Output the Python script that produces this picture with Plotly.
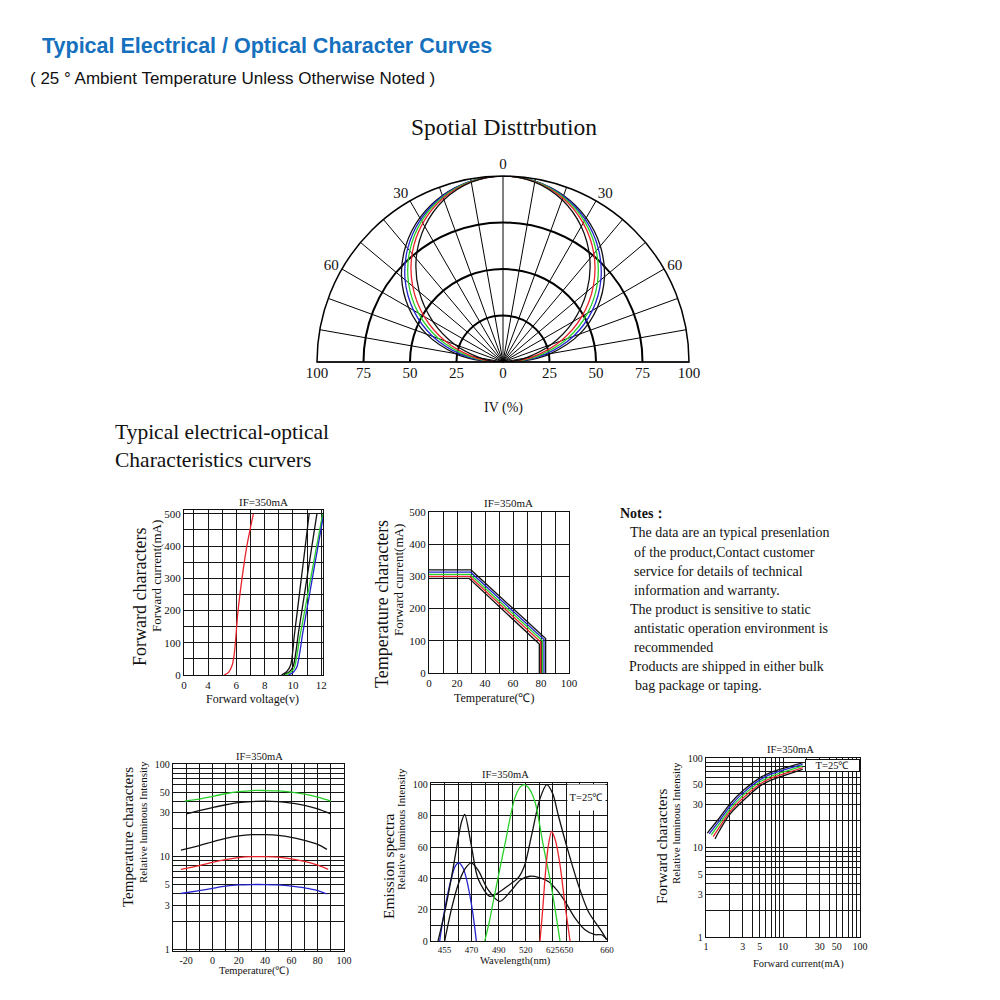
import plotly.graph_objects as go

SERIF = "Liberation Serif, 'Times New Roman', serif"
SANS = "Liberation Sans, Arial, sans-serif"
INK = "#111111"
GRID = "#161616"
RED = "#e8232b"
GREEN = "#28d028"
BLUE = "#2424cc"
TITLE_BLUE = "#1570be"

# ---------------- Spatial distribution (polar) ----------------
spatial_theta = [-90, -85, -80, -70, -60, -50, -40, -30, -20, -10, 0,
                 10, 20, 30, 40, 50, 60, 70, 80, 85, 90]
spatial_black_outer = [0, 15.3, 26.0, 43.8, 58.6, 71.2, 81.4, 89.5, 95.3, 98.8, 100,
                       98.8, 95.3, 89.5, 81.4, 71.2, 58.6, 43.8, 26.0, 15.3, 0]
spatial_blue = [0, 12.6, 22.6, 40.2, 55.5, 68.7, 79.7, 88.5, 94.9, 98.7, 100,
                98.7, 94.9, 88.5, 79.7, 68.7, 55.5, 40.2, 22.6, 12.6, 0]
spatial_green = [0, 10.3, 19.6, 36.9, 52.5, 66.3, 78.0, 87.5, 94.4, 98.6, 100,
                 98.6, 94.4, 87.5, 78.0, 66.3, 52.5, 36.9, 19.6, 10.3, 0]
spatial_red = [0, 8.1, 16.5, 33.1, 49.0, 63.4, 76.0, 86.2, 93.8, 98.4, 100,
               98.4, 93.8, 86.2, 76.0, 63.4, 49.0, 33.1, 16.5, 8.1, 0]
spatial_black_inner = [0, 5.3, 12.2, 27.6, 43.5, 58.8, 72.6, 84.1, 92.8, 98.2, 100,
                       98.2, 92.8, 84.1, 72.6, 58.8, 43.5, 27.6, 12.2, 5.3, 0]
spatial_angle_ticks = [-90, -80, -70, -60, -50, -40, -30, -20, -10, 0,
                       10, 20, 30, 40, 50, 60, 70, 80, 90]
spatial_angle_labels = ["", "", "", "60", "", "", "30", "", "", "0",
                        "", "", "30", "", "", "60", "", "", ""]
spatial_r_ticks = [25, 50, 75, 100]
iv_ticks = [-100, -75, -50, -25, 0, 25, 50, 75, 100]
iv_labels = ["100", "75", "50", "25", "0", "25", "50", "75", "100"]

# ---------------- Forward characters (IF vs VF) ----------------
fv_ticks = [2.301, 3, 4, 5, 6, 7, 8, 9, 10, 11, 12]
fv_labels = ["0", "", "4", "", "6", "", "8", "", "10", "", "12"]
fi_ticks = [0, 50, 100, 150, 200, 250, 300, 350, 400, 450, 500]
fi_labels = ["0", "", "100", "", "200", "", "300", "", "400", "", "500"]
fv_red_v = [5.14, 5.45, 5.7, 5.85, 5.93, 6.12, 6.4, 6.74, 7.2]
fv_red_ma = [0, 8, 30, 65, 100, 200, 300, 400, 500]
fv_black1_v = [9.19, 9.55, 9.83, 10.1, 10.5, 10.85, 11.14]
fv_black1_ma = [0, 10, 30, 125, 268, 393, 500]
fv_black2_v = [9.36, 9.75, 10.02, 10.4, 10.85, 11.3, 11.69]
fv_black2_ma = [0, 10, 28, 135, 262, 390, 500]
fv_green_v = [9.43, 9.8, 10.07, 10.5, 11.0, 11.6, 12.1]
fv_green_ma = [0, 8, 20, 122, 240, 383, 500]
fv_blue_v = [9.67, 10.0, 10.26, 10.7, 11.2, 11.7, 12.15]
fv_blue_ma = [0, 8, 23, 133, 258, 383, 495]

# ---------------- Temperature characters (IF derating) ----------------
td_ticks = [0, 10, 20, 30, 40, 50, 60, 70, 80, 90, 100]
td_labels = ["0", "", "20", "", "40", "", "60", "", "80", "", "100"]
ti_ticks = [0, 100, 200, 300, 400, 500]
ti_labels = ["0", "100", "200", "300", "400", "500"]
td_black_top_t = [0, 30, 83.3, 83.3]
td_black_top_ma = [320, 320, 107, 0]
td_blue_t = [0, 29.7, 82.1, 82.1]
td_blue_ma = [313, 313, 104, 0]
td_green_t = [0, 29.4, 81.0, 81.0]
td_green_ma = [306, 306, 100, 0]
td_red_t = [0, 29.0, 79.8, 79.8]
td_red_ma = [300, 300, 96, 0]
td_black_bot_t = [0, 28.6, 78.8, 78.8]
td_black_bot_ma = [294, 294, 90, 0]

# ---------------- Temperature characters (relative intensity) ----------------
tl_ticks = [-30, -20, -10, 0, 10, 20, 30, 40, 50, 60, 70, 80, 90, 100]
tl_labels = ["", "-20", "", "0", "", "20", "", "40", "", "60", "", "80", "", "100"]
log_ticks = [1, 2, 3, 4, 5, 6, 7, 8, 9, 10, 20, 30, 40, 50, 60, 70, 80, 90, 100]
log_labels = ["1", "", "3", "", "5", "", "", "", "", "10", "", "30", "", "50",
              "", "", "", "", "100"]
tl_green_t = [-21, -10, 0, 10, 20, 30, 40, 50, 60, 70, 80, 90]
tl_green = [40, 42, 45, 48, 50.5, 52, 52, 51.5, 50, 47.5, 44, 40]
tl_black_hi_t = [-20, -10, 0, 10, 20, 30, 40, 50, 60, 70, 80, 90]
tl_black_hi = [29, 31.5, 34, 36.5, 38.5, 39.5, 40, 39.5, 38, 36, 33, 29]
tl_black_mid_t = [-24, -10, 0, 10, 20, 30, 40, 50, 60, 70, 80, 87]
tl_black_mid = [11.8, 13.2, 14.5, 15.8, 16.8, 17.3, 17.3, 17.0, 16.2, 15.0, 13.6, 12.0]
tl_red_t = [-24, -10, 0, 10, 20, 30, 40, 50, 60, 70, 80, 88]
tl_red = [7.3, 8.0, 8.7, 9.3, 9.8, 10.0, 10.0, 9.9, 9.5, 8.9, 8.1, 7.3]
tl_blue_t = [-24, -10, 0, 10, 20, 30, 40, 50, 60, 70, 80, 87]
tl_blue = [4.0, 4.3, 4.55, 4.8, 4.95, 5.0, 5.0, 4.95, 4.8, 4.6, 4.3, 3.95]

# ---------------- Emission spectra ----------------
wl_ticks = [1, 2, 3, 4, 5, 6, 7, 8, 9, 10, 11, 12, 13]
wl_labels = ["455", "", "470", "", "490", "", "520", "", "625", "650", "", "", "660"]
sp_ticks = [0, 10, 20, 30, 40, 50, 60, 70, 80, 90, 100]
sp_labels = ["0", "", "20", "", "40", "", "60", "", "80", "", "100"]
sp_blue_x = [0.64, 1.01, 1.5, 1.8, 2.05, 2.35, 2.61, 3.05, 3.35]
sp_blue_y = [0, 20, 40, 48, 50, 47, 40, 20, 0]
sp_black1_x = [0.52, 1.0, 1.5, 1.94, 2.25, 2.49, 2.98, 3.47, 4.34, 5.0, 5.8, 6.4,
               6.9, 7.44, 8.05, 8.55, 9.0, 9.4, 10.14, 10.88, 11.62, 12.6, 12.98]
sp_black1_y = [0, 18, 40, 62, 76, 81, 61, 40, 28.6, 31, 36, 40,
               48, 68, 91, 100, 94, 80.4, 57.1, 35.9, 18.9, 6.2, 0.9]
sp_black2_x = [1.01, 1.5, 2.0, 2.5, 2.98, 3.5, 4.2, 5.07, 5.9, 6.6, 7.31, 8.0,
               8.67, 9.3, 9.9, 10.64, 11.37, 12.11, 12.6, 12.98]
sp_black2_y = [0, 20, 36, 46, 50, 45, 33, 25.3, 32, 39, 41.4, 40.5,
               38, 32.5, 25.3, 14.6, 7.2, 4.0, 4.0, 0.9]
sp_green_x = [3.97, 4.3, 4.7, 5.44, 6.18, 6.6, 6.89, 7.2, 7.68, 8.29, 8.91, 9.53]
sp_green_y = [0, 12, 29.7, 61, 91, 98.5, 100, 98, 89, 61.3, 33.8, 0]
sp_red_x = [8.05, 8.25, 8.42, 8.65, 8.91, 9.2, 9.53, 9.9, 10.27]
sp_red_y = [0, 20, 40, 60, 70, 64, 48.6, 23, 0]

# ---------------- Forward characters (relative intensity vs IF) ----------------
fc_black_hi_x = [1.04, 1.5, 2, 3, 5, 7, 10, 14, 18]
fc_black_hi = [14.5, 21.5, 30, 43, 60, 69, 76.5, 83, 88.5]
fc_blue_x = [1.1, 1.5, 2, 3, 5, 7, 10, 14, 18]
fc_blue = [14.2, 20, 28, 40.5, 57, 66, 73, 79.5, 85]
fc_green_x = [1.17, 1.5, 2, 3, 5, 7, 10, 14, 18]
fc_green = [13.8, 18.5, 26.2, 38, 54, 62.5, 69.5, 76, 81.5]
fc_red_x = [1.24, 1.5, 2, 3, 5, 7, 10, 14, 18]
fc_red = [13.2, 17, 24.5, 35.5, 51, 59.5, 66, 72.5, 78]
fc_black_lo_x = [1.31, 1.5, 2, 3, 5, 7, 10, 14, 18]
fc_black_lo = [12.5, 15.5, 23, 33, 48.5, 56.5, 63, 69.5, 74.6]

notes_lines = [
    "The data are an typical presenlation",
    "of the product,Contact customer",
    "service for details of technical",
    "information and warranty.",
    "The product is sensitive to static",
    "antistatic operation environment is",
    "recommended",
    "Products are shipped in either bulk",
    "bag package or taping.",
]

# page geometry (the browser body adds an 8 px margin)
OFF = 8
SIZE = 984

fig = go.Figure()

for r, c in [(spatial_black_outer, INK), (spatial_blue, BLUE), (spatial_green, GREEN),
             (spatial_red, RED), (spatial_black_inner, INK)]:
    fig.add_trace(go.Scatterpolar(theta=spatial_theta, r=r, mode="lines",
                                  line=dict(color=c, width=1.3, shape="spline"),
                                  subplot="polar", hoverinfo="skip"))


def line(x, y, c, xa, ya, spline=True, w=1.3):
    fig.add_trace(go.Scatter(x=x, y=y, mode="lines", xaxis=xa, yaxis=ya,
                             line=dict(color=c, width=w,
                                       shape="spline" if spline else "linear",
                                       smoothing=0.8),
                             hoverinfo="skip", cliponaxis=True))


line(fv_red_v, fv_red_ma, RED, "x", "y")
line(fv_black1_v, fv_black1_ma, INK, "x", "y")
line(fv_black2_v, fv_black2_ma, INK, "x", "y")
line(fv_green_v, fv_green_ma, GREEN, "x", "y")
line(fv_blue_v, fv_blue_ma, BLUE, "x", "y")

line(td_black_top_t, td_black_top_ma, INK, "x2", "y2", spline=False)
line(td_blue_t, td_blue_ma, BLUE, "x2", "y2", spline=False)
line(td_green_t, td_green_ma, GREEN, "x2", "y2", spline=False)
line(td_red_t, td_red_ma, RED, "x2", "y2", spline=False)
line(td_black_bot_t, td_black_bot_ma, INK, "x2", "y2", spline=False)

line(tl_green_t, tl_green, GREEN, "x3", "y3")
line(tl_black_hi_t, tl_black_hi, INK, "x3", "y3")
line(tl_black_mid_t, tl_black_mid, INK, "x3", "y3")
line(tl_red_t, tl_red, RED, "x3", "y3")
line(tl_blue_t, tl_blue, BLUE, "x3", "y3")

line(sp_blue_x, sp_blue_y, BLUE, "x4", "y4")
line(sp_black1_x, sp_black1_y, INK, "x4", "y4")
line(sp_black2_x, sp_black2_y, INK, "x4", "y4")
line(sp_green_x, sp_green_y, GREEN, "x4", "y4")
line(sp_red_x, sp_red_y, RED, "x4", "y4")

line(fc_black_hi_x, fc_black_hi, INK, "x5", "y5")
line(fc_blue_x, fc_blue, BLUE, "x5", "y5")
line(fc_green_x, fc_green, GREEN, "x5", "y5")
line(fc_red_x, fc_red, RED, "x5", "y5")
line(fc_black_lo_x, fc_black_lo, INK, "x5", "y5")

fig.add_trace(go.Scatter(x=[iv_ticks[0], iv_ticks[-1]], y=[0, 0], xaxis="x6", yaxis="y6",
                         mode="markers", marker=dict(opacity=0), hoverinfo="skip"))


def px(x0, x1):
    return [(x0 - OFF) / SIZE, (x1 - OFF) / SIZE]


def py(top, bottom):
    return [1 - (bottom - OFF) / SIZE, 1 - (top - OFF) / SIZE]


def ax(domain, rng, tv, tt, anchor, size=11, typ="linear"):
    return dict(domain=domain, range=rng, type=typ, tickmode="array", tickvals=tv,
                ticktext=tt, showgrid=True, gridcolor=GRID, gridwidth=1.2,
                showline=True, linecolor=INK, linewidth=1.3, mirror=True, ticks="",
                zeroline=False, anchor=anchor, fixedrange=True, tickangle=0,
                tickfont=dict(family=SERIF, size=size, color=INK))


layout_axes = dict(
    xaxis=ax(px(184, 323), [2.3, 12.12], fv_ticks, fv_labels, "y"),
    yaxis=ax(py(510, 675), [0, 512], fi_ticks, fi_labels, "x"),
    xaxis2=ax(px(429, 569), [0, 100], td_ticks, td_labels, "y2"),
    yaxis2=ax(py(512, 673), [0, 500], ti_ticks, ti_labels, "x2"),
    xaxis3=ax(px(173, 344), [-30, 100], tl_ticks, tl_labels, "y3", size=10),
    yaxis3=ax(py(764, 951), [-0.02, 2.003], log_ticks, log_labels, "x3", size=10, typ="log"),
    xaxis4=ax(px(431, 607), [0, 13], wl_ticks, wl_labels, "y4", size=9),
    yaxis4=ax(py(783, 941), [0, 101], sp_ticks, sp_labels, "x4", size=10),
    xaxis5=ax(px(706, 860), [0, 2], log_ticks, log_labels, "y5", size=10, typ="log"),
    yaxis5=ax(py(758, 937), [0, 2], log_ticks, log_labels, "x5", size=10, typ="log"),
    xaxis6=dict(domain=px(317, 689), range=[-100, 100], anchor="y6", tickmode="array",
                tickvals=iv_ticks, ticktext=iv_labels, showgrid=False, showline=False,
                zeroline=False, ticks="", fixedrange=True, tickangle=0,
                tickfont=dict(family=SERIF, size=15, color=INK)),
    yaxis6=dict(domain=py(176, 362), range=[0, 1], visible=False, anchor="x6",
                fixedrange=True),
)


def A(text, x, y, size, family=SERIF, xanchor="center", angle=0, color=INK, **kw):
    return dict(text=text, x=(x - OFF) / SIZE, y=1 - (y - OFF) / SIZE, xref="paper",
                yref="paper", xanchor=xanchor, yanchor="middle", showarrow=False,
                textangle=angle, font=dict(family=family, size=size, color=color), **kw)


notes_x = [628, 632, 632, 632, 628, 632, 632, 627, 633]
notes_y = [532, 552, 571, 590, 609, 628, 647, 666, 685]

annotations = [
    A("<b>Typical Electrical / Optical Character Curves</b>", 40, 46, 21.5, SANS, "left",
      color=TITLE_BLUE),
    A("( 25 ° Ambient Temperature Unless Otherwise Noted )", 28, 78, 17, SANS, "left"),
    A("Spotial Disttrbution", 504, 127, 23.5),
    A("IV (%)", 503, 408, 14),
    A("Typical electrical-optical<br>Characteristics curvers", 113, 446, 21.5,
      xanchor="left", align="left"),
    A("IF=350mA", 263, 502, 11),
    A("Forward characters", 140, 597, 18, angle=-90),
    A("Forward current(mA)", 156, 576, 13, angle=-90),
    A("Forward voltage(v)", 252, 699, 12),
    A("IF=350mA", 508, 503, 11),
    A("Temperature characters", 382, 604, 18, angle=-90),
    A("Forward current(mA)", 398, 580, 13, angle=-90),
    A("Temperature(℃)", 494, 698, 12),
    A("<b>Notes：</b>", 618, 513, 14, xanchor="left"),
    A("IF=350mA", 259, 756, 10.5),
    A("Temperature characters", 128, 837, 15, angle=-90),
    A("Relative luminous Intensity", 143, 822, 11, angle=-90),
    A("Temperature(℃)", 254, 971, 10.5),
    A("IF=350mA", 505, 774, 10.5),
    A("Emission spectra", 388, 866, 15.5, angle=-90),
    A("Relative luminous Intensity", 401, 829, 11, angle=-90),
    A("Wavelength(nm)", 515, 961, 10.5),
    A("T=25℃", 586.5, 797.5, 10.5, width=37, height=25, bgcolor="white", borderpad=0),
    A("IF=350mA", 790, 749, 10.5),
    A("Forward characters", 662, 846, 15, angle=-90),
    A("Relative luminous Intensity", 676, 823, 11, angle=-90),
    A("Forward current(mA)", 798, 964, 10.5),
    A("T=25℃", 832.5, 765.5, 10.5, width=53, height=11, bgcolor="white",
      bordercolor=INK, borderwidth=1, borderpad=0),
]
for t, x, y in zip(notes_lines, notes_x, notes_y):
    annotations.append(A(t, x, y, 14, xanchor="left"))

fig.update_layout(
    width=SIZE, height=SIZE, margin=dict(l=0, r=0, t=0, b=0),
    paper_bgcolor="white", plot_bgcolor="white", showlegend=False,
    template="none", font=dict(family=SERIF, color=INK),
    polar=dict(
        domain=dict(x=px(317, 689), y=py(176, 362)),
        sector=[0, 180], bgcolor="white",
        angularaxis=dict(rotation=90, direction="clockwise", tickmode="array",
                         tickvals=spatial_angle_ticks, ticktext=spatial_angle_labels,
                         showgrid=True, gridcolor="black", gridwidth=1.1,
                         showline=True, linecolor="black", linewidth=1.5, ticks="",
                         tickfont=dict(family=SERIF, size=15, color=INK)),
        radialaxis=dict(range=[0, 100], tickmode="array", tickvals=spatial_r_ticks,
                        showticklabels=False, showgrid=True, gridcolor="black",
                        gridwidth=1.6, showline=False, ticks=""),
    ),
    annotations=annotations,
    **layout_axes,
)

fig.write_html("out.html")
